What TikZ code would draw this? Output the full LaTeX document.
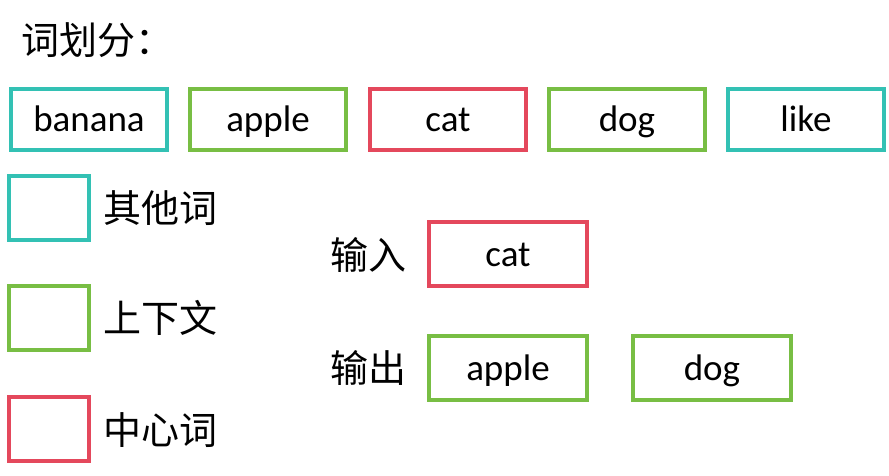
\documentclass[tikz,border=0pt]{standalone}
\usepackage{fontspec}
\setmainfont{Carlito}
\newfontfamily\cjk{Noto Sans CJK SC}
\definecolor{cteal}{HTML}{33C1B4}
\definecolor{cgreen}{HTML}{78BE44}
\definecolor{cred}{HTML}{E4485C}
\begin{document}
\begin{tikzpicture}[x=1pt,y=-1pt,
  wbox/.style={draw=#1,line width=4pt,minimum width=156pt,minimum height=61pt,inner sep=0pt,text height=30pt,text depth=5pt,font=\fontsize{37}{40}\selectfont},
  lbox/.style={draw=#1,line width=4pt,minimum width=80pt,minimum height=64pt,inner sep=0pt},
  ctext/.style={font=\cjk\fontsize{38}{40}\selectfont,inner sep=0pt}]
\useasboundingbox (0,0) rectangle (889,476);
\node[ctext,anchor=west] (title) at (21,40) {词划分：};
\node[wbox=cteal] (w1) at (89,119.5) {banana};
\node[wbox=cgreen] (w2) at (268,119.5) {apple};
\node[wbox=cred] (w3) at (448,119.5) {cat};
\node[wbox=cgreen] (w4) at (627,119.5) {dog};
\node[wbox=cteal] (w5) at (806,119.5) {like};
\node[lbox=cteal] (l1) at (49,208) {};
\node[lbox=cgreen] (l2) at (49,318) {};
\node[lbox=cred] (l3) at (49,429) {};
\node[ctext,anchor=west] (t1) at (103,208) {其他词};
\node[ctext,anchor=west] (t2) at (103,318) {上下文};
\node[ctext,anchor=west] (t3) at (103,430) {中心词};
\node[ctext,anchor=west] (in) at (330,255) {输入};
\node[ctext,anchor=west] (out) at (330,368) {输出};
\node[wbox=cred,minimum width=158pt,minimum height=64pt] (ic) at (508,254) {cat};
\node[wbox=cgreen,minimum width=158pt,minimum height=64pt] (oa) at (508,368) {apple};
\node[wbox=cgreen,minimum width=158pt,minimum height=64pt] (od) at (712,368) {dog};
\end{tikzpicture}
\end{document}
